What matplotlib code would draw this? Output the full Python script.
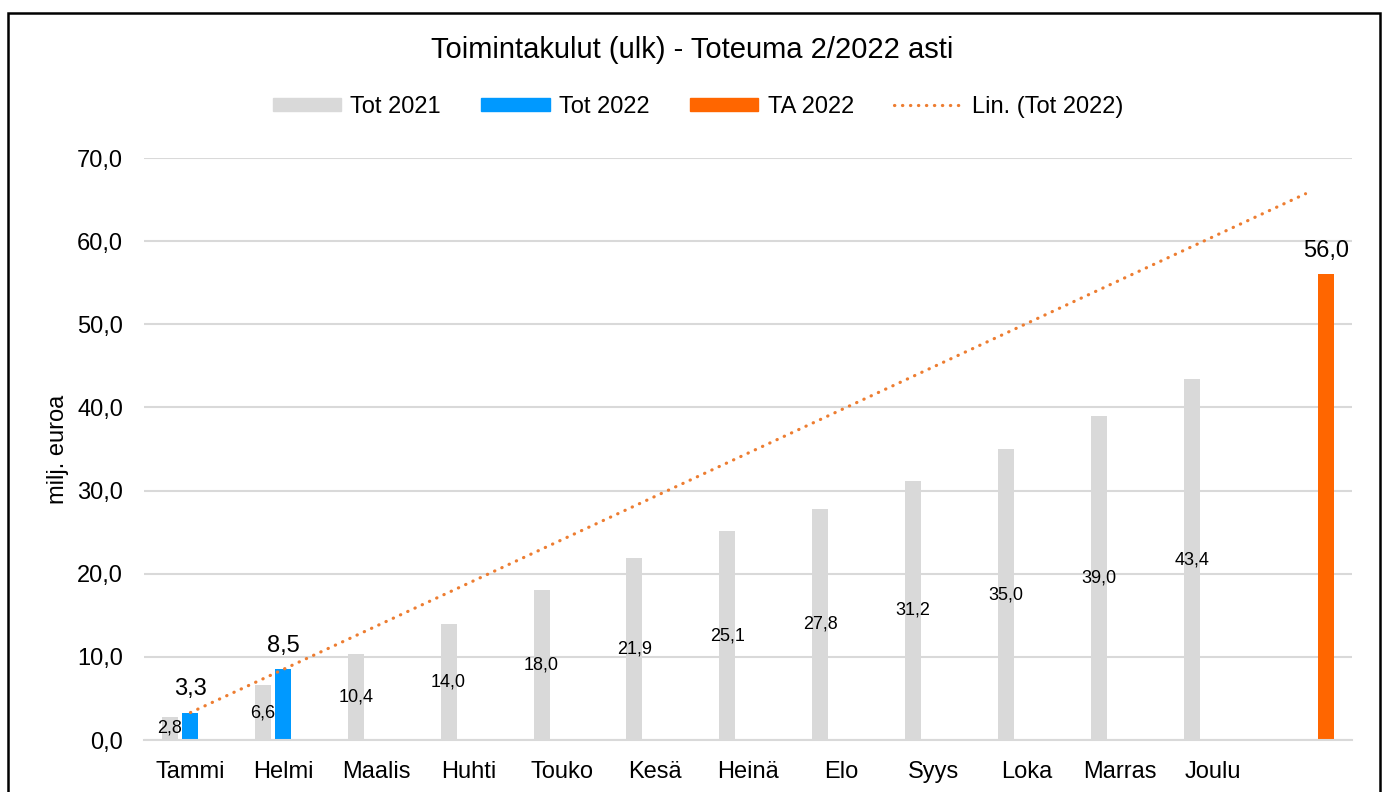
import numpy as np
import matplotlib.pyplot as plt
from matplotlib.patches import Rectangle, Patch
from matplotlib.lines import Line2D

plt.rcParams['font.family'] = ['Liberation Sans', 'DejaVu Sans']

months = ['Tammi', 'Helmi', 'Maalis', 'Huhti', 'Touko', 'Kesä', 'Heinä',
          'Elo', 'Syys', 'Loka', 'Marras', 'Joulu', '']
tot_2021 = [2.8, 6.6, 10.4, 14.0, 18.0, 21.9, 25.1, 27.8, 31.2, 35.0, 39.0, 43.4]
tot_2022 = [3.3, 8.5]
ta_2022 = 56.0

c_2021 = '#D9D9D9'
c_2022 = '#0099FF'
c_ta = '#FF6600'
c_trend = '#ED7D31'
dots = (0, (0.1, 2.4))


def fmt(v):
    return f'{v:.1f}'.replace('.', ',')


fig = plt.figure(figsize=(13.9, 7.92), dpi=100)
ax = fig.add_axes([144 / 1390, 1 - 740 / 792, (1352 - 144) / 1390, (740 - 158) / 792])

x = np.arange(1, len(months) + 1)
w = 0.172
off = 0.222

b1 = ax.bar(x[:len(tot_2021)] - off, tot_2021, w, color=c_2021, zorder=2)
b2 = ax.bar(x[:len(tot_2022)], tot_2022, w, color=c_2022, zorder=2)
b3 = ax.bar(x[-1] + off, ta_2022, w, color=c_ta, zorder=2)

# linear trend of Tot 2022, forecast to the last category
k, b = np.polyfit(x[:len(tot_2022)], tot_2022, 1)
xt = np.array([x[0], x[-1]])
ax.plot(xt, k * xt + b, color=c_trend, lw=2.3, linestyle=dots,
        dash_capstyle='round', zorder=3)

for rect, v in zip(b1, tot_2021):
    ax.text(rect.get_x() + rect.get_width() / 2, v / 2, fmt(v),
            ha='center', va='center', fontsize=13, color='black', zorder=4)
for rect, v in zip(list(b2) + list(b3), tot_2022 + [ta_2022]):
    ax.annotate(fmt(v), (rect.get_x() + rect.get_width() / 2, v),
                xytext=(0, 17), textcoords='offset points',
                ha='center', va='center', fontsize=17, color='black', zorder=4)

ax.set_xlim(0.5, len(months) + 0.5)
ax.set_ylim(0, 70)
ax.set_yticks(np.arange(0, 71, 10))
ax.set_yticklabels([fmt(v) for v in np.arange(0, 71, 10)])
ax.set_xticks(x)
ax.set_xticklabels(months)
ax.tick_params(axis='both', length=0, labelsize=17, colors='black')
ax.tick_params(axis='y', pad=15)
ax.tick_params(axis='x', pad=15)
ax.grid(axis='y', color='#D9D9D9', lw=1.5, zorder=0)
for s in ['left', 'right', 'top']:
    ax.spines[s].set_visible(False)
ax.spines['bottom'].set_color('#D9D9D9')
ax.spines['bottom'].set_linewidth(1.5)

ax.set_ylabel('milj. euroa', fontsize=17, color='black', labelpad=6)

fig.text(0.5 * (430 + 955) / 1390, 1 - 50 / 792, 'Toimintakulut (ulk) - Toteuma 2/2022 asti',
         ha='center', va='center', fontsize=21, color='black')

handles = [Patch(color=c_2021), Patch(color=c_2022), Patch(color=c_ta),
           Line2D([], [], color=c_trend, lw=2.3, linestyle=dots, dash_capstyle='round')]
labels = ['Tot 2021', 'Tot 2022', 'TA 2022', 'Lin. (Tot 2022)']
fig.legend(handles, labels, loc='center', bbox_to_anchor=(698 / 1390, 1 - 107 / 792),
           ncol=4, frameon=False, fontsize=17, handlelength=2.9, handleheight=0.5,
           handletextpad=0.4, columnspacing=1.7, labelcolor='black')

fig.add_artist(Rectangle((8 / 1390, -0.1), (1380 - 8) / 1390, 1.1 - 13 / 792,
                         transform=fig.transFigure, fill=False, edgecolor='black',
                         lw=1.8, clip_on=False))

fig.savefig('out.png', dpi=100)
